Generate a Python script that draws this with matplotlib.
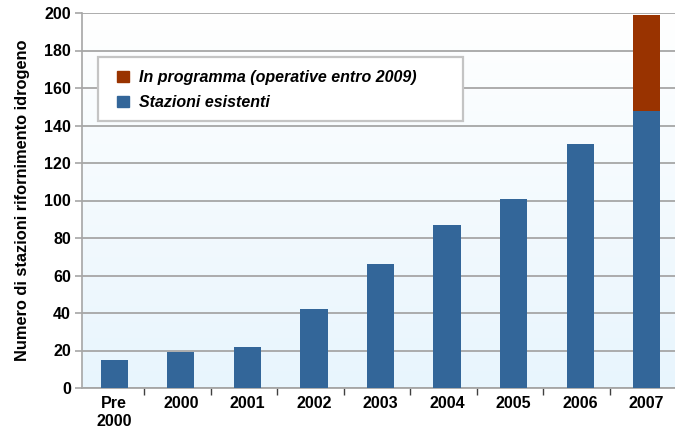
import numpy as np
import matplotlib.pyplot as plt
from matplotlib.patches import Patch, Rectangle
from matplotlib.colors import LinearSegmentedColormap

plt.rcParams['font.family'] = ['Liberation Sans', 'DejaVu Sans']
plt.rcParams['font.weight'] = 'bold'

anni = ['Pre\n2000', '2000', '2001', '2002', '2003', '2004', '2005', '2006', '2007']
esistenti = [15, 19, 22, 42, 66, 87, 101, 130, 148]
programma = [0, 0, 0, 0, 0, 0, 0, 0, 51]

blu = '#336699'
rosso = '#993300'
griglia = '#a6a6a6'

W, H = 675, 428
fig = plt.figure(figsize=(W / 100, H / 100), dpi=100)
ax = fig.add_axes([82 / W, 40 / H, 1 - 82 / W, 375 / H])

x = np.arange(len(anni))
xmin, xmax = -0.485, 8.425

# sfondo sfumato: bianco in alto, azzurro in basso
grad = np.linspace(0, 1, 256).reshape(-1, 1)
cmap = LinearSegmentedColormap.from_list('sf', ['#ffffff', '#e8f5fd'])
ax.imshow(grad, aspect='auto', cmap=cmap, extent=[xmin, xmax, 0, 200],
          zorder=0, origin='upper')

ax.bar(x, esistenti, width=0.41, color=blu, zorder=3)
ax.bar(x, programma, width=0.41, bottom=esistenti, color=rosso, zorder=3)

ax.set_xlim(xmin, xmax)
ax.set_ylim(0, 200)
ax.set_yticks(range(0, 201, 20))
ax.yaxis.grid(True, color=griglia, linewidth=1.3, zorder=1)
ax.set_axisbelow(True)

ax.set_xticks(x)
ax.set_xticklabels(anni, fontsize=11.5, fontweight='bold')
ax.tick_params(axis='x', length=0, pad=6)
ax.set_xticks(x[:-1] + 0.446, minor=True)
ax.tick_params(axis='x', which='minor', length=5, color='#404040', width=1)
ax.tick_params(axis='y', length=5, color=griglia, width=1.2, labelsize=11.5, pad=3)
for lab in ax.get_yticklabels():
    lab.set_fontweight('bold')

for s in ['top', 'right']:
    ax.spines[s].set_visible(False)
ax.spines['left'].set_color(griglia)
ax.spines['bottom'].set_color(griglia)
ax.spines['left'].set_linewidth(1.2)
ax.spines['bottom'].set_linewidth(1.3)

ax.set_ylabel('Numero di stazioni rifornimento idrogeno', fontsize=11.8,
              fontweight='bold', labelpad=10)

# riquadro della legenda
fig.patches.append(Rectangle((98 / W, 1 - 121 / H), 365 / W, 64 / H,
                             transform=fig.transFigure, facecolor='white',
                             edgecolor='#c4c4c4', linewidth=1.6, zorder=4))

handles = [Patch(color=rosso, label='In programma (operative entro 2009)'),
           Patch(color=blu, label='Stazioni esistenti')]
leg = fig.legend(handles=handles, loc='upper left',
                 bbox_to_anchor=(117 / W, 1 - 70 / H),
                 prop={'size': 11.5, 'weight': 'bold', 'style': 'italic'},
                 frameon=False, handlelength=0.75, handleheight=0.75,
                 borderpad=0, borderaxespad=0, labelspacing=0.63,
                 handletextpad=0.6)
leg.set_zorder(5)

fig.savefig('out.png', dpi=100)
